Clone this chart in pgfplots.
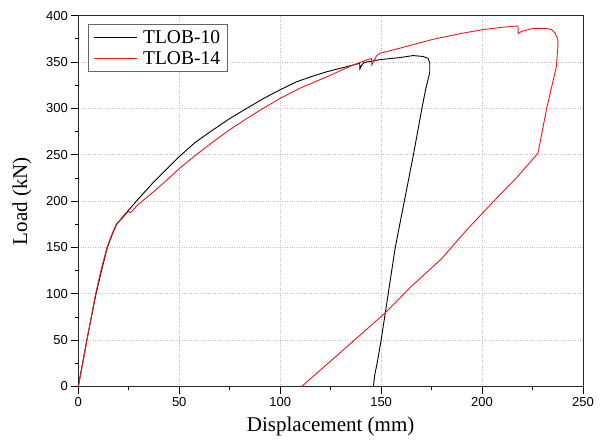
\documentclass[border=0pt]{standalone}
\usepackage{fontspec}
\setmainfont{Liberation Serif}
\newfontfamily\sansfont{Liberation Sans}
\usepackage{pgfplots}
\pgfplotsset{compat=1.18}
\definecolor{curvered}{RGB}{235,25,30}
\definecolor{gridgray}{RGB}{190,190,190}
\newcommand{\tickfont}{\fontsize{13}{15}\selectfont\sansfont}

\begin{document}
\begin{tikzpicture}
\begin{axis}[
    scale only axis,
    width=504.7pt,
    height=370.8pt,
    xmin=0, xmax=250,
    ymin=0, ymax=400,
    xtick={0,50,...,250},
    ytick={0,50,...,400},
    minor x tick num=1,
    minor y tick num=1,
    tick pos=left,
    tick align=outside,
    major tick length=7pt,
    minor tick length=3.5pt,
    every tick/.style={black, line width=0.8pt},
    axis line style={line width=0.9pt, black!85},
    grid=major,
    major grid style={gridgray, dotted, line width=0.7pt},
    /pgf/number format/assume math mode=true,
    xticklabel={\tickfont\pgfmathprintnumber{\tick}},
    yticklabel={\tickfont\pgfmathprintnumber{\tick}},
    xlabel={Displacement (mm)},
    ylabel={Load (kN)},
    label style={font=\fontsize{21}{24}\selectfont},
    xlabel style={at={(rel axis cs:0.5,0)}, anchor=center, yshift=-39.5pt},
    ylabel style={at={(rel axis cs:0,0.5)}, anchor=center, yshift=56.3pt},
    legend style={at={(rel axis cs:0.0198,0.977)}, anchor=north west,
        draw=black!60, line width=0.8pt, font=\fontsize{19.5}{23.3}\selectfont,
        inner xsep=5pt, inner ysep=4pt, row sep=2.3pt, cells={anchor=west}},
    legend image code/.code={\draw[#1] (0pt,0pt) -- (43pt,0pt); \path (46.5pt,0pt);},
    legend cell align=left,
]
\addplot[black, line width=0.9pt] coordinates {
(0,0)(2.1,25)(4.2,50)(6.5,75)(8.8,100)(11.5,125)(14.4,150)(17,165)(19,175)
(22,183)(25,190.5)(30,203)(37.5,221)(44,235)(50,248)(58,263.5)(66.8,277)
(75,289)(83.4,300)(92,311)(99.9,320)(108,328.6)(115,334)(123,339.5)(132.9,345)
(139.4,348.6)(139.5,342.5)(140.2,346)(141.5,349.5)(149.4,352.6)(159.3,354.8)
(165.8,357)(170.8,356)(173.3,354)(174.1,348.6)(174.1,339)(172,320)(170.2,300)
(166,250)(161.5,200)(157,150)(153.5,100)(150,50)(148,25)(146.8,12)(146.2,0)
};
\addlegendentry{TLOB-10}
\addplot[curvered, line width=0.9pt] coordinates {
(0,0)(2.2,25)(4.3,50)(6.4,75)(8.6,100)(11.2,125)(14.2,150)(16.8,165)(18.8,175)
(22,182)(24.8,189)(25.8,187.5)(30,197)(37.5,210.5)(44,223)(50,235)(57.8,249)
(66.8,264)(75,277)(83.4,289)(90,298)(99.9,310.7)(110,322)(123,334)(136,346.7)
(145.2,354)(145.4,347)(147.7,356.6)(149.4,359.5)(159.3,365)(175.7,374.5)
(190,381)(200.5,385)(210,387.5)(217.8,389)(217.9,380.7)(219.5,383)(225.2,386.3)
(231.9,386.3)(234.5,385)(236,381.7)(237.5,375)(237.6,368)(236.8,345)(232,300)
(227.7,251.6)(217,225)(205.4,199)(192,168)(180,138)(165,108)(151.8,79)(130,37)
(110.6,0)
};
\addlegendentry{TLOB-14}
\end{axis}
\pgfresetboundingbox
\path (-78.3pt,-55.5pt) rectangle (528.7pt,386.5pt);
\end{tikzpicture}
\end{document}
